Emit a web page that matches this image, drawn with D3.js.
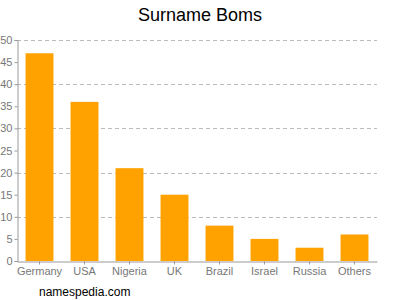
<!DOCTYPE html>
<html>
<head>
<meta charset="utf-8">
<script src="https://cdn.jsdelivr.net/npm/d3@7"></script>
<style>
  body { margin: 0; background: #fff; }
  svg { display: block; font-family: Arial, "Liberation Sans", sans-serif; }
</style>
</head>
<body>
<div id="chart"></div>
<script>
// chart data
let countries = ["Germany", "USA", "Nigeria", "UK", "Brazil", "Israel", "Russia", "Others"];
let counts = [47, 36, 21, 15, 8, 5, 3, 6];
let yTicks = [0, 5, 10, 15, 20, 25, 30, 35, 40, 45, 50];
let gridTicks = [10, 20, 30, 40, 50];

let width = 400;
let height = 300;
let plotLeft = 17, plotRight = 377, plotTop = 40, plotBottom = 261;

let svg = d3.select('#chart')
    .append('svg')
    .attr('width', width)
    .attr('height', height)
;

let x = d3.scaleBand()
    .domain(countries)
    .range([plotLeft, plotRight])
    .paddingInner(0.38)
    .paddingOuter(0.19)
;
let y = d3.scaleLinear()
    .domain([0, 50])
    .range([plotBottom, plotTop])
;

// dashed grid lines
svg.selectAll('line.grid')
    .data(gridTicks)
    .enter()
    .append('line')
    .attr('class', 'grid')
    .attr('x1', plotLeft)
    .attr('x2', plotRight)
    .attr('y1', d => Math.round(y(d)) + 0.5)
    .attr('y2', d => Math.round(y(d)) + 0.5)
    .style('stroke', '#bbb')
    .style('stroke-dasharray', '4,3')
;

// bars
svg.selectAll('rect.bar')
    .data(counts)
    .enter()
    .append('rect')
    .attr('class', 'bar')
    .attr('x', (d, i) => x(countries[i]))
    .attr('y', d => y(d))
    .attr('width', x.bandwidth())
    .attr('height', d => plotBottom - y(d))
    .style('fill', '#ffa200')
;

// y axis
let yAxis = svg.append('g')
    .attr('transform', `translate(${plotLeft + 0.5},0)`)
    .call(d3.axisLeft(y).tickValues(yTicks).tickSize(3).tickPadding(2));
yAxis.select('.domain').style('stroke', '#999');
yAxis.selectAll('.tick line').style('stroke', '#999');
yAxis.selectAll('text').style('fill', '#777').style('font-size', '11px');

// x axis
let xAxis = svg.append('g')
    .attr('transform', `translate(0,${plotBottom + 0.5})`)
    .call(d3.axisBottom(x).tickSize(3).tickSizeOuter(0).tickPadding(3));
xAxis.select('.domain').style('stroke', '#999');
xAxis.selectAll('.tick line').style('stroke', '#999');
xAxis.selectAll('text').style('fill', '#777').style('font-size', '11px');

// title
svg.append('text')
    .attr('x', 200)
    .attr('y', 21)
    .attr('text-anchor', 'middle')
    .style('font-size', '18px')
    .style('fill', '#000')
    .text('Surname Boms')
;

// footer
svg.append('text')
    .attr('x', 39)
    .attr('y', 296)
    .style('font-size', '12px')
    .style('fill', '#000')
    .text('namespedia.com')
;
</script>
</body>
</html>
